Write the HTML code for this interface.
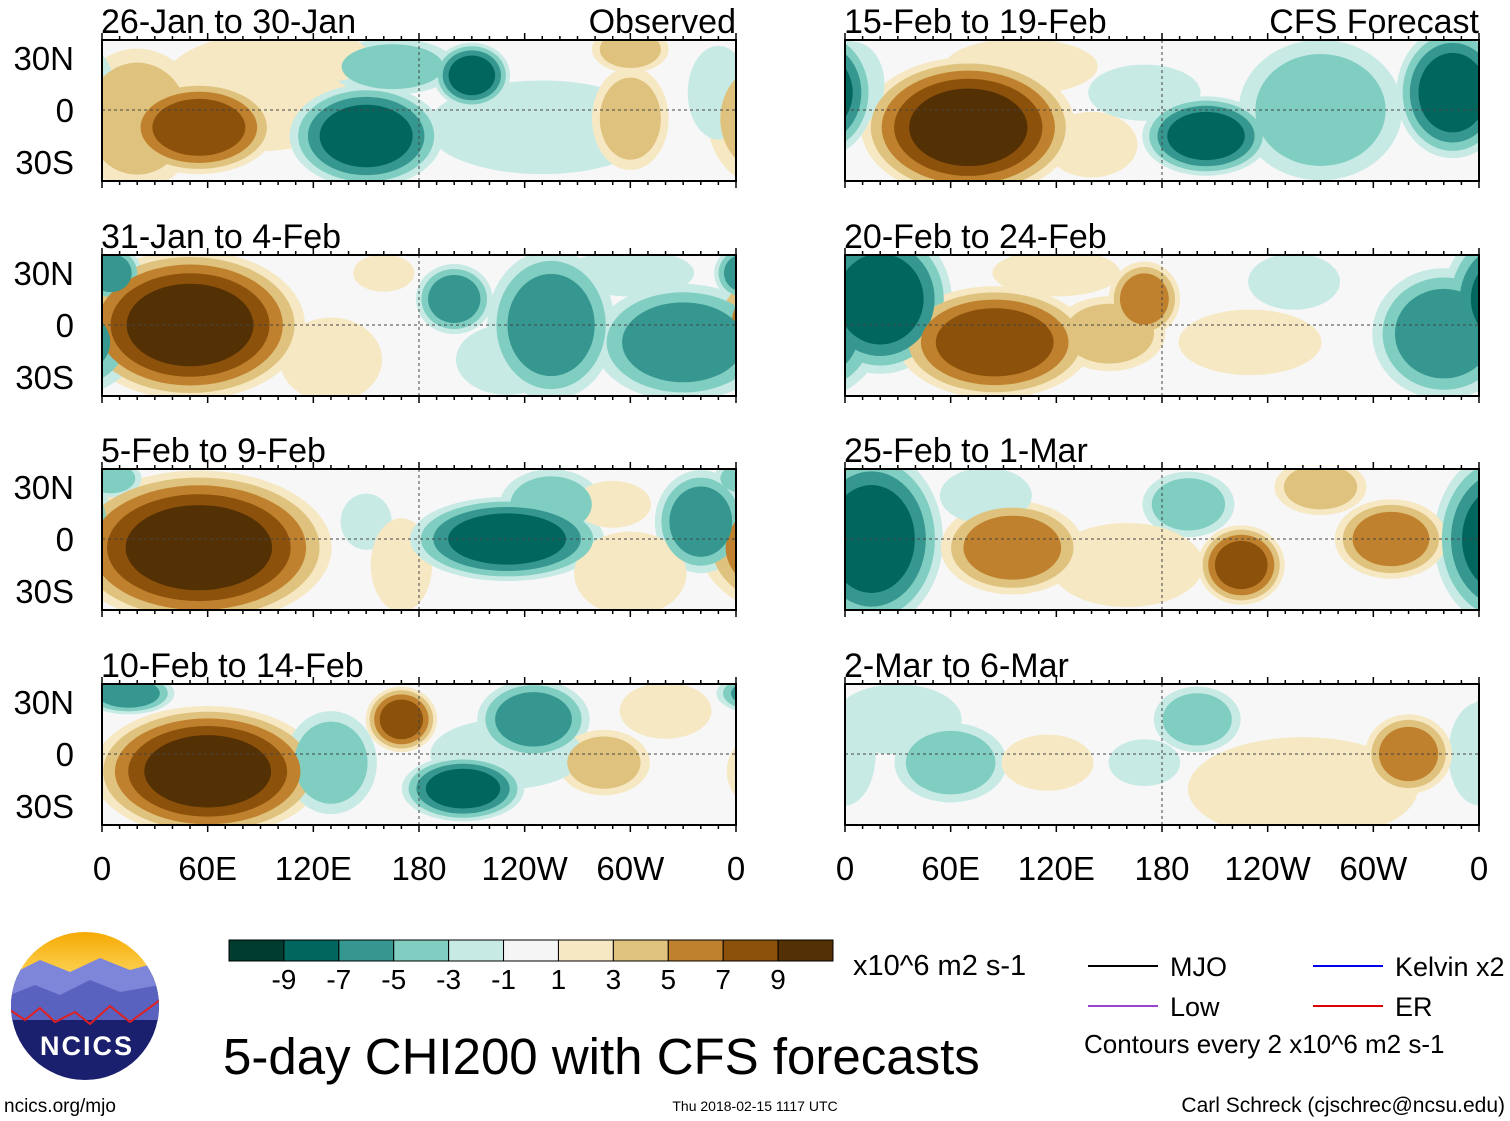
<!DOCTYPE html>
<html><head><meta charset="utf-8">
<style>
body{margin:0;background:#fff;width:1510px;height:1121px;overflow:hidden;font-family:"Liberation Sans",Arial,sans-serif;}
svg{position:absolute;left:0;top:0}
</style></head>
<body>
<svg id="chart" width="1510" height="1121"></svg>
<script>
const panelTitles=["26-Jan to 30-Jan","31-Jan to 4-Feb","5-Feb to 9-Feb","10-Feb to 14-Feb","15-Feb to 19-Feb","20-Feb to 24-Feb","25-Feb to 1-Mar","2-Mar to 6-Mar"];
const xTickLabels=["0","60E","120E","180","120W","60W","0"];
const xTickLons=[0,60,120,180,240,300,360];
const yTickLabels=["30N","0","30S"];
const yTickLats=[30,0,-30];
const cbLabels=["-9","-7","-5","-3","-1","1","3","5","7","9"];
const cbColors=["#003c30","#01665e","#35978f","#80cdc1","#c7eae5","#f5f5f5","#f6e8c3","#dfc27d","#bf812d","#8c510a","#543005"];
// anomaly centres per panel: [lon, lat, value, rxDeg, ryDeg]
const blobs0=[[90,10,3,40,25],[20,-5,5,25,30],[55,-10,9,30,20],[250,-10,-3,45,20],[150,-15,-9,30,22],[165,25,-5,25,12],[210,20,-9,15,14],[300,-5,5,15,22],[300,35,5,15,10],[350,10,-3,12,20],[130,30,3,15,10]];
const blobs1=[[50,0,11,45,32],[130,-20,3,20,18],[160,30,3,12,8],[200,15,-7,15,15],[230,-20,-3,20,15],[255,0,-7,25,32],[330,-10,-7,35,25],[5,30,-7,12,12],[300,30,-3,25,10]];
const blobs2=[[55,-5,11,52,33],[150,10,-3,10,12],[170,-15,3,12,20],[230,0,-9,38,18],[255,20,-5,20,15],[340,10,-7,18,22],[5,35,-5,12,8],[300,-20,3,22,18],[290,20,3,15,10]];
const blobs3=[[60,-10,11,45,28],[130,-5,-5,18,22],[170,20,9,14,14],[205,-20,-9,24,14],[245,20,-7,22,17],[285,-5,5,18,14],[15,35,-7,18,9],[320,25,3,18,12],[230,0,-3,30,15]];
const blobs4=[[70,-10,11,42,30],[140,-20,3,18,14],[170,10,-3,22,12],[205,-15,-9,25,17],[270,0,-5,32,30],[345,10,-9,22,28],[5,15,-3,12,18],[100,25,3,30,12]];
const blobs5=[[20,15,-9,28,32],[85,-10,9,38,24],[150,-5,5,22,16],[170,15,7,14,16],[230,-10,3,28,14],[340,-5,-7,28,28],[255,25,-3,18,12],[120,30,3,25,10]];
const blobs6=[[15,0,-9,28,38],[95,-5,7,28,20],[195,20,-5,18,14],[225,-15,9,17,17],[270,30,5,18,12],[310,0,7,22,17],[80,25,-3,18,12],[160,-15,3,30,18]];
const blobs7=[[0,0,-3,12,22],[60,-5,-5,22,17],[115,-5,3,18,12],[170,-5,-3,14,10],[200,20,-5,17,14],[260,-20,3,45,22],[320,0,7,17,17],[30,20,-3,25,15]];
const allBlobs=[blobs0,blobs1,blobs2,blobs3,blobs4,blobs5,blobs6,blobs7];

const NS="http://www.w3.org/2000/svg";
const svg=document.getElementById('chart');
function mk(tag,attrs,parent){const e=document.createElementNS(NS,tag);for(const k in attrs)e.setAttribute(k,attrs[k]);(parent||svg).appendChild(e);return e;}
const PW=634,PH=141;
const colX=[102,845],rowY=[40,255,469,684];
function xScale(px,lon){return px+lon/360*PW;}
function yScale(py,lat){return py+70-lat*52/30;}
function bandColor(level,sign){const idx=(level-1)/2;return sign>0?cbColors[6+idx]:cbColors[4-idx];}
const defs=mk('defs',{});
const SX=1.45,SY=1.35;
for(let p=0;p<8;p++){
  const px=colX[Math.floor(p/4)],py=rowY[p%4];
  const cp=mk('clipPath',{id:'c'+p},defs);mk('rect',{x:px,y:py,width:PW,height:PH},cp);
  const g=mk('g',{'clip-path':'url(#c'+p+')'});
  
  
  mk('rect',{x:px,y:py,width:PW,height:PH,fill:'#f7f7f7'},g);
  const arr=allBlobs[p];
  for(const lvl of [1,3,5,7,9]){
    for(const b of arr){
      const av=Math.abs(b[2]);if(av<=lvl)continue;
      const f=Math.sqrt(1-(lvl-1)/(av+0.5));
      const s=Math.sign(b[2]);
      const rx=b[3]*f*SX*PW/360, ry=b[4]*f*SY*52/30;
      for(const off of [0,360,-360]){
        const cx=xScale(px,b[0]+off);
        if(cx+rx<px||cx-rx>px+PW)continue;
        const e=mk('ellipse',{cx:cx,cy:yScale(py,b[1]),rx:rx,ry:ry,fill:bandColor(lvl,s)},g);
        
        
      }
    }
  }
  mk('line',{x1:px,x2:px+PW,y1:py+70,y2:py+70,stroke:'#444','stroke-dasharray':'3,3','stroke-width':1},g);
  mk('line',{x1:xScale(px,180),x2:xScale(px,180),y1:py,y2:py+PH,stroke:'#444','stroke-dasharray':'3,3','stroke-width':1},g);
  const fr=mk('rect',{x:px,y:py,width:PW,height:PH,fill:'none',stroke:'#000','stroke-width':2});
  
  
  for(let lon=0;lon<=360;lon+=10){const x=xScale(px,lon),L=lon%60==0?7:4;
    mk('line',{x1:x,x2:x,y1:py,y2:py-L,stroke:'#000','stroke-width':1.5});
    mk('line',{x1:x,x2:x,y1:py+PH,y2:py+PH+L,stroke:'#000','stroke-width':1.5});}
  const t=mk('text',{x:px-1,y:py-7,'font-size':34,fill:'#000'});t.textContent=panelTitles[p];
  
  
  if(p%4==0){const r=mk('text',{x:px+PW,y:py-7,'font-size':34,'text-anchor':'end'});r.textContent=p==0?'Observed':'CFS Forecast';
    
    }
  if(p<4){yTickLats.forEach((lat,i)=>{const yt=mk('text',{x:74,y:yScale(py,lat)+12,'font-size':33,'text-anchor':'end'});yt.textContent=yTickLabels[i];
    
    });}
}
colX.forEach(px=>{xTickLons.forEach((lon,i)=>{const t=mk('text',{x:xScale(px,lon),y:880,'font-size':33,'text-anchor':'middle'});t.textContent=xTickLabels[i];
  
  });});
// colorbar
const cbg=mk('g',{});


const cbX=229,cbW=604/11;
cbColors.forEach((c,i)=>mk('rect',{x:cbX+i*cbW,y:940,width:cbW,height:21,fill:c,stroke:'#000','stroke-width':1},cbg));
cbLabels.forEach((l,i)=>{const t=mk('text',{x:cbX+(i+1)*cbW,y:989,'font-size':28,'text-anchor':'middle'},cbg);t.textContent=l;});
const u=mk('text',{x:853,y:975,'font-size':29});u.textContent='x10^6 m2 s-1';


const ttl=mk('text',{x:223,y:1074,'font-size':51});ttl.textContent='5-day CHI200 with CFS forecasts';


// legend
const lg=mk('g',{});


[[1088,966,'#000','MJO'],[1088,1006,'#9944cc','Low'],[1313,966,'#0000ee','Kelvin x2'],[1313,1006,'#dd0000','ER']].forEach(d=>{
  mk('line',{x1:d[0],x2:d[0]+70,y1:d[1],y2:d[1],stroke:d[2],'stroke-width':2},lg);
  const t=mk('text',{x:d[0]+82,y:d[1]+10,'font-size':27},lg);t.textContent=d[3];});
const ce=mk('text',{x:1084,y:1053,'font-size':26});ce.textContent='Contours every 2 x10^6 m2 s-1';


const f1=mk('text',{x:4,y:1112,'font-size':19});f1.textContent='ncics.org/mjo';


const f2=mk('text',{x:755,y:1111,'font-size':14,'text-anchor':'middle'});f2.textContent='Thu 2018-02-15 1117 UTC';


const f3=mk('text',{x:1505,y:1112,'font-size':21,'text-anchor':'end'});f3.textContent='Carl Schreck (cjschrec@ncsu.edu)';


// logo
const lgo=mk('g',{});


const lc=mk('clipPath',{id:'logoclip'},defs);mk('circle',{cx:85,cy:1006,r:74},lc);
const gr=mk('linearGradient',{id:'sky',x1:0,y1:0,x2:0,y2:1},defs);
mk('stop',{offset:'0','stop-color':'#f5a800'},gr);mk('stop',{offset:'1','stop-color':'#ffe070'},gr);
const li=mk('g',{'clip-path':'url(#logoclip)'},lgo);
mk('rect',{x:10,y:930,width:150,height:60,fill:'url(#sky)'},li);
mk('rect',{x:10,y:975,width:150,height:110,fill:'#1a1f6e'},li);
mk('path',{d:'M10 975 L40 960 L70 972 L100 958 L130 970 L160 962 L160 1000 L10 1000Z',fill:'#7d86d8'},li);
mk('path',{d:'M10 995 L35 985 L60 995 L90 980 L120 992 L160 985 L160 1020 L10 1020Z',fill:'#5a62c0'},li);
mk('path',{d:'M10 1010 L25 1020 L40 1008 L55 1022 L75 1012 L90 1024 L110 1006 L130 1022 L160 1000',fill:'none',stroke:'#e02020','stroke-width':2},li);
const nt=mk('text',{x:87,y:1055,'font-size':27,'font-weight':'bold',fill:'#fff','text-anchor':'middle','letter-spacing':'2'},lgo);nt.textContent='NCICS';
</script>
</body></html>
